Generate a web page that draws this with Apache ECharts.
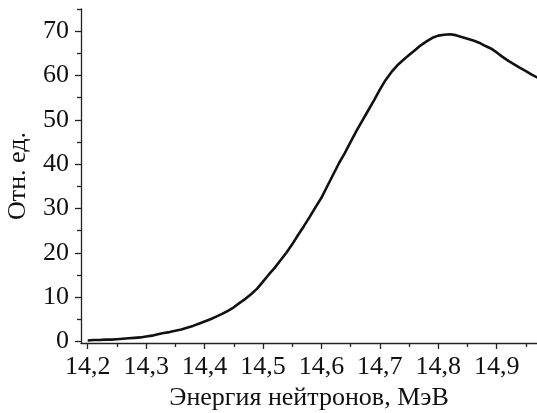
<!DOCTYPE html>
<html>
<head>
<meta charset="utf-8">
<script src="https://cdn.jsdelivr.net/npm/echarts@6/dist/echarts.min.js"></script>
<style>
html,body{margin:0;padding:0;background:#fff;}
#chart{width:537px;height:413px;}
</style>
</head>
<body>
<div id="chart"></div>
<script>
// Data
var energy = [14.20,14.21,14.22,14.23,14.24,14.25,14.26,14.27,14.28,14.29,
  14.30,14.31,14.32,14.33,14.34,14.35,14.36,14.37,14.38,14.39,
  14.40,14.41,14.42,14.43,14.44,14.45,14.46,14.47,14.48,14.49,
  14.50,14.51,14.52,14.53,14.54,14.55,14.56,14.57,14.58,14.59,
  14.60,14.61,14.62,14.63,14.64,14.65,14.66,14.67,14.68,14.69,
  14.70,14.71,14.72,14.73,14.74,14.75,14.76,14.77,14.78,14.79,
  14.80,14.81,14.82,14.83,14.84,14.85,14.86,14.87,14.88,14.89,
  14.90,14.91,14.92,14.93,14.94,14.95,14.96,14.97];
var intensity = [0.2,0.3,0.3,0.4,0.4,0.5,0.6,0.7,0.8,0.9,
  1.1,1.3,1.6,1.9,2.1,2.4,2.7,3.1,3.5,4.0,
  4.5,5.0,5.6,6.2,6.9,7.7,8.7,9.6,10.7,11.9,
  13.5,15.1,16.6,18.3,20.0,21.9,24.0,26.0,28.1,30.3,
  32.4,35.0,37.6,40.2,42.5,45.0,47.5,49.8,52.1,54.4,
  56.8,59.0,60.8,62.3,63.5,64.6,65.7,66.8,67.7,68.5,
  69.0,69.2,69.3,69.1,68.7,68.3,67.9,67.4,66.7,66.1,
  65.2,64.2,63.3,62.5,61.7,61.0,60.2,59.5];
var xMajorTicks = [14.2,14.3,14.4,14.5,14.6,14.7,14.8,14.9];
var xMinorTicks = [14.25,14.35,14.45,14.55,14.65,14.75,14.85,14.95];
var yMajorTicks = [0,10,20,30,40,50,60,70];
var yMinorTicks = [5,15,25,35,45,55,65,75];
var xName = 'Энергия нейтронов, МэВ';
var yName = 'Отн. ед.';

var FONT = '"Liberation Serif", "Times New Roman", serif';
var AX = '#222';
var xMin = 14.1885, xMax = 14.969, yMin = -0.36, yMax = 75;

var pts = energy.map(function(e, i){ return [e, intensity[i]]; });

function fmt(v){ return String(v).replace('.', ','); }

var chart = echarts.init(document.getElementById('chart'), null, {renderer:'canvas'});
chart.setOption({
  animation:false,
  backgroundColor:'#fff',
  grid:{left:81, right:0, top:9, bottom:70, containLabel:false, outerBoundsMode:'none'},
  xAxis:[{
    type:'value', min:xMin, max:xMax, position:'bottom',
    name:xName, nameLocation:'middle', nameGap:41,
    nameTextStyle:{fontFamily:FONT, fontSize:26, color:'#111'},
    axisLine:{show:true, onZero:false, lineStyle:{color:AX, width:1.3}},
    axisTick:{show:true, length:6, customValues:xMajorTicks, lineStyle:{color:AX, width:1.3}},
    axisLabel:{customValues:xMajorTicks, formatter:fmt, margin:11,
      fontFamily:FONT, fontSize:26, color:'#111', showMinLabel:true, showMaxLabel:true},
    splitLine:{show:false}
  },{
    type:'value', min:xMin, max:xMax, position:'bottom',
    axisLine:{show:false, onZero:false},
    axisTick:{show:true, length:4, customValues:xMinorTicks, lineStyle:{color:AX, width:1.3}},
    axisLabel:{show:false},
    splitLine:{show:false}
  }],
  yAxis:[{
    type:'value', min:yMin, max:yMax, position:'left',
    name:yName, nameLocation:'middle', nameGap:50, nameRotate:90,
    nameTextStyle:{fontFamily:FONT, fontSize:26, color:'#111'},
    axisLine:{show:true, onZero:false, lineStyle:{color:AX, width:1.3}},
    axisTick:{show:true, length:6, customValues:yMajorTicks, lineStyle:{color:AX, width:1.3}},
    axisLabel:{customValues:yMajorTicks, margin:12,
      fontFamily:FONT, fontSize:26, color:'#111'},
    splitLine:{show:false}
  },{
    type:'value', min:yMin, max:yMax, position:'left',
    axisLine:{show:false, onZero:false},
    axisTick:{show:true, length:4, customValues:yMinorTicks, lineStyle:{color:AX, width:1.3}},
    axisLabel:{show:false},
    splitLine:{show:false}
  }],
  series:[{
    type:'line', xAxisIndex:0, yAxisIndex:0,
    data:pts, showSymbol:false, smooth:false,
    lineStyle:{color:'#111', width:2.6}
  }]
});
</script>
</body>
</html>
